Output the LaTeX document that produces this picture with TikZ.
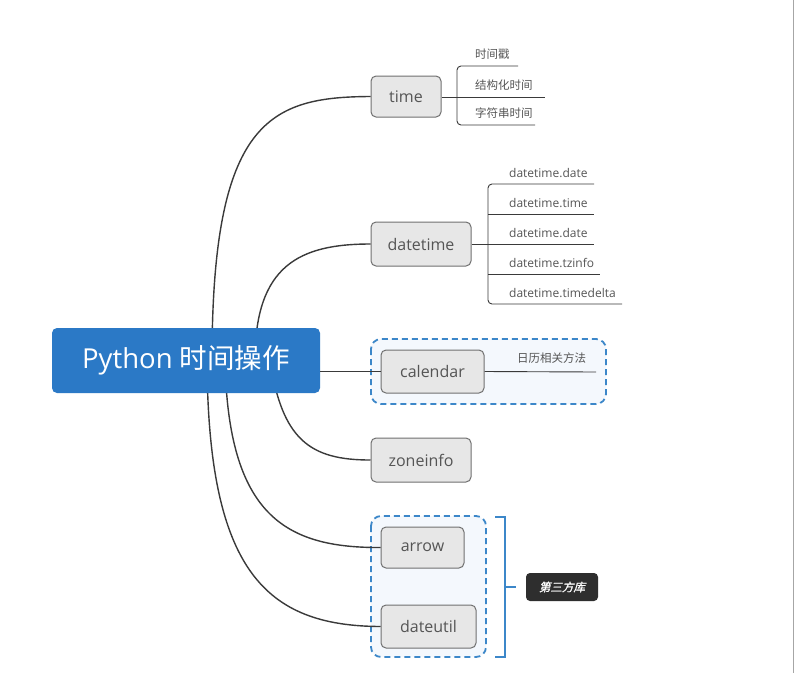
\documentclass[tikz,border=0pt]{standalone}
\usepackage{fontspec}
\setmainfont{Open Sans}
\newfontfamily\cjk{Noto Sans CJK SC}
\newfontfamily\cjkbi[FakeSlant=0.25,FakeBold=1.2]{Noto Sans CJK SC}
\definecolor{rootblue}{HTML}{2B79C6}
\definecolor{nodegray}{HTML}{E7E7E7}
\definecolor{bordergray}{HTML}{707070}
\definecolor{textgray}{HTML}{555555}
\definecolor{linedark}{HTML}{3A3A3A}
\definecolor{dashblue}{HTML}{3C87C9}
\definecolor{boxfill}{HTML}{F4F8FD}
\definecolor{tagdark}{HTML}{2E2E2E}
\tikzset{
  topicbox/.style={draw=bordergray, line width=1pt, fill=nodegray, rounded corners=5pt,
    text=textgray, font=\fontsize{16}{18}\selectfont, inner sep=0pt},
  mainline/.style={draw=linedark, line width=1.4pt},
  subline/.style={draw=linedark, line width=0.9pt},
  sublabel/.style={anchor=base west, inner sep=0pt, text=textgray, font=\fontsize{12}{14}\selectfont},
  cjklabel/.style={anchor=base west, inner sep=0pt, text=textgray, font=\cjk\fontsize{11.5}{13}\selectfont},
  groupbox/.style={draw=dashblue, line width=1.8pt, dash pattern=on 6pt off 4pt, fill=boxfill, rounded corners=10pt},
}
\begin{document}
\begin{tikzpicture}[x=1pt,y=-1pt]
\useasboundingbox (0,0) rectangle (795,673);
\fill[white] (0,0) rectangle (795,673);
\draw[gray!70, line width=1.5pt] (793.5,0) -- (793.5,673);

% dashed group boxes
\path[groupbox] (371,339) rectangle (606,404);
\path[groupbox] (371,516) rectangle (486,657);

% start coordinates inside root
\coordinate (s1) at (212,360);
\coordinate (s2) at (255,360);
\coordinate (s4) at (270,360);
\coordinate (s5) at (225,360);
\coordinate (s6) at (207,360);

% topic nodes
\node[topicbox, minimum width=70pt, minimum height=41pt] (time) at (406,96.5) {time};
\node[topicbox, minimum width=100pt, minimum height=44pt] (datetime) at (421,244) {datetime};
\node[topicbox, minimum width=103pt, minimum height=43pt] (calendar) at (432.5,371.5) {calendar};
\node[topicbox, minimum width=100pt, minimum height=44pt] (zoneinfo) at (421,460) {zoneinfo};
\node[topicbox, minimum width=83pt, minimum height=41pt] (arrow) at (422.5,547.5) {arrow};
\node[topicbox, minimum width=95pt, minimum height=43pt] (dateutil) at (428.5,626.5) {dateutil};

% main connectors
\draw[mainline] (s1) .. controls (212,120) and (270,97) .. (time.west);
\draw[mainline] (s2) .. controls (255,265) and (300,244) .. (datetime.west);
\draw[mainline] (s4) .. controls (282,440) and (310,460) .. (zoneinfo.west);
\draw[mainline] (s5) .. controls (228,515) and (285,548) .. (arrow.west);
\draw[mainline] (s6) .. controls (208,570) and (265,626) .. (dateutil.west);

% root
\node[fill=rootblue, rounded corners=5pt, minimum width=268pt, minimum height=65pt, inner sep=0pt,
  text=white, font=\fontsize{27.5}{32}\selectfont] (root) at (186,360.5) {Python {\cjk 时间操作}};
\draw[mainline] (root.east |- calendar.west) -- (calendar.west);

% time subtopics
\coordinate (tb) at (457,97);
\draw[subline] (time.east |- tb) -- (tb);
\draw[subline, rounded corners=4pt] (518,66) -- (457,66) -- (457,125) -- (535,125);
\draw[subline] (tb) -- (545,97);
\node[cjklabel] (t1) at (475,58) {时间戳};
\node[cjklabel] (t2) at (475,89) {结构化时间};
\node[cjklabel] (t3) at (475,117.5) {字符串时间};

% datetime subtopics
\coordinate (db) at (488,244);
\draw[subline] (datetime.east) -- (db);
\draw[subline, rounded corners=4pt] (594,184) -- (488,184) -- (488,304) -- (622,304);
\draw[subline] (488,214) -- (594,214);
\draw[subline] (db) -- (594,244);
\draw[subline] (488,274) -- (600,274);
\node[sublabel] (d1) at (509,177) {datetime.date};
\node[sublabel] (d2) at (509,207) {datetime.time};
\node[sublabel] (d3) at (509,237) {datetime.date};
\node[sublabel] (d4) at (509,267) {datetime.tzinfo};
\node[sublabel] (d5) at (509,297) {datetime.timedelta};

% calendar subtopic
\coordinate (ce) at (596,372);
\draw[subline] (calendar.east) -- (ce);
\node[cjklabel] (c1) at (517,362) {日历相关方法};

% third-party bracket
\draw[dashblue, line width=1.8pt] (495,517) -- (505,517) -- (505,657) -- (495,657);
\coordinate (bm) at (505,587);
\node[fill=tagdark, rounded corners=4pt, minimum width=72pt, minimum height=28pt, inner sep=0pt,
  text=white, font=\cjkbi\fontsize{11.5}{13}\selectfont] (tag) at (562,587) {第三方库};
\draw[dashblue, line width=1.8pt] (bm) -- (tag.west -| 516,587);
\end{tikzpicture}
\end{document}
